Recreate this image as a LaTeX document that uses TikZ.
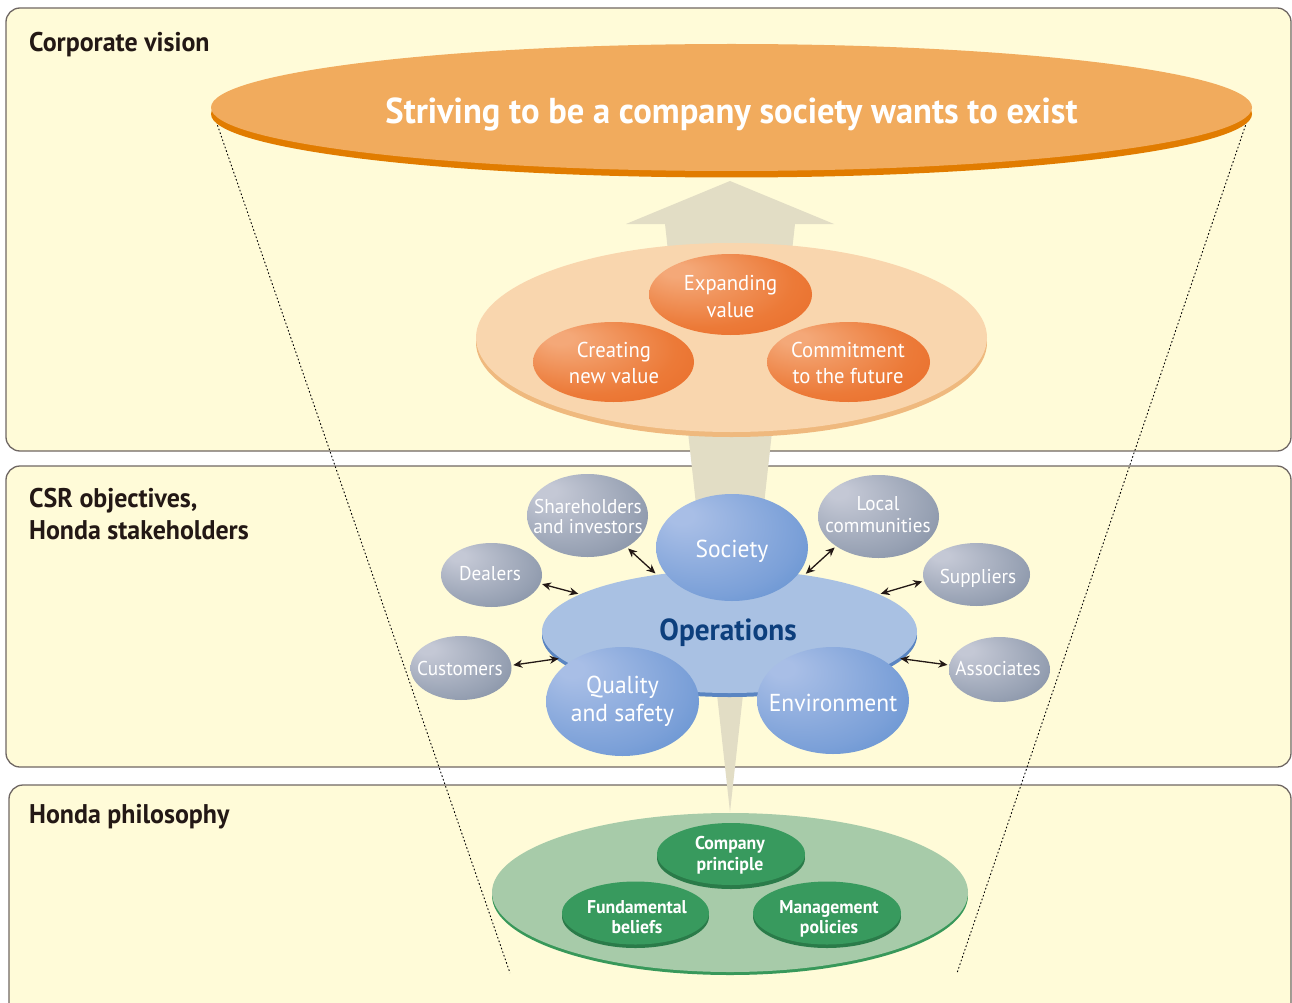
\documentclass[tikz,border=0pt]{standalone}
\usepackage{fontspec}
\setmainfont{PT Sans}[FakeStretch=0.96]
\usetikzlibrary{shapes.geometric,arrows.meta}
\definecolor{panelfill}{HTML}{FFFBD8}
\definecolor{panelline}{HTML}{6F6763}
\definecolor{beige}{HTML}{E2DDC5}
\definecolor{bigTop}{HTML}{F1AB5D}
\definecolor{bigRim}{HTML}{E17C00}
\definecolor{peachTop}{HTML}{F9D6AE}
\definecolor{peachRim}{HTML}{EFB97E}
\definecolor{opsTop}{HTML}{A9C1E3}
\definecolor{opsRim}{HTML}{5A85C2}
\definecolor{greenTop}{HTML}{A7CBA9}
\definecolor{greenRim}{HTML}{38985A}
\definecolor{gTop}{HTML}{389A5E}
\definecolor{gRim}{HTML}{2A7B49}
\definecolor{hdark}{HTML}{231815}
\definecolor{opsText}{HTML}{0D3F7D}
\definecolor{orL}{HTML}{F4A878}
\definecolor{orM}{HTML}{EC7A38}
\definecolor{orD}{HTML}{E75E18}
\definecolor{blL}{HTML}{A8BEE6}
\definecolor{blM}{HTML}{7BA0D8}
\definecolor{blD}{HTML}{3D7BC4}
\definecolor{grL}{HTML}{C4C8D5}
\definecolor{grM}{HTML}{97A1B3}
\definecolor{grD}{HTML}{627088}
\pgfdeclareradialshading{orshade}{\pgfpoint{-18bp}{16bp}}{color(0bp)=(orL); color(4bp)=(orL); color(28bp)=(orM); color(55bp)=(orD)}
\pgfdeclareradialshading{blshade}{\pgfpoint{-18bp}{16bp}}{color(0bp)=(blL); color(4bp)=(blL); color(30bp)=(blM); color(56bp)=(blD)}
\pgfdeclareradialshading{grshade}{\pgfpoint{-18bp}{16bp}}{color(0bp)=(grL); color(4bp)=(grL); color(30bp)=(grM); color(56bp)=(grD)}
\tikzset{
  panel/.style={draw=panelline, fill=panelfill, line width=1.3pt, rounded corners=14pt},
  oval/.style={ellipse, inner sep=0pt, outer sep=0pt},
  orball/.style={oval, shading=orshade},
  blueball/.style={oval, shading=blshade},
  grayball/.style={oval, shading=grshade},
  greenball/.style={oval, fill=gTop},
  lbl/.style={inner sep=0pt, align=center, anchor=base, text=white},
  head/.style={inner sep=0pt, anchor=base west, align=left, text=hdark, font=\bfseries\fontsize{27}{32}\selectfont},
  link/.style={{Stealth[length=9pt,width=8pt]}-{Stealth[length=9pt,width=8pt]}, line width=1.3pt, draw=hdark, shorten <=2pt, shorten >=2pt},
  dotl/.style={line width=0.9pt, dash pattern=on 1.6pt off 2.2pt, draw=black},
}
\begin{document}
\begin{tikzpicture}[x=1pt,y=-1pt]
\useasboundingbox (0,0) rectangle (1292,1003);
\fill[white] (0,0) rectangle (1292,1003);
\begin{scope}
\clip (0,0) rectangle (1292,1003);
% panels
\draw[panel] (6,8) rectangle (1291,451);
\draw[panel] (6,466) rectangle (1291,767);
\draw[panel] (9,785) rectangle (1291,1040);
% headings
\node[head] (h1) at (29,52) {Corporate vision};
\node[head] (h2) at (29,539) {CSR objectives,\\Honda stakeholders};
\node[head] (h3) at (29,823) {Honda philosophy};
% dotted funnel lines
\coordinate (dlA) at (215,118);
\coordinate (dlB) at (510,973);
\coordinate (drA) at (1248,118);
\coordinate (drB) at (957,973);
\draw[dotl] (dlA) -- (dlB);
\draw[dotl] (drA) -- (drB);
% big arrow
\fill[beige] (730,181) -- (834,224) -- (795,224) -- (730,812) -- (665,224) -- (626,224) -- cycle;
% corporate vision ellipse
\fill[bigRim] (731.5,114) ellipse [x radius=520.5pt, y radius=63.5pt];
\node[oval, fill=bigTop, minimum width=1041pt, minimum height=127pt] (vision) at (731.5,107.5) {};
\node[lbl, font=\bfseries\fontsize{36}{40}\selectfont] (visiont) at (731.5,124) {Striving to be a company society wants to exist};
% value plate
\fill[peachRim] (731.5,342.5) ellipse [x radius=255.5pt, y radius=94.5pt];
\node[oval, fill=peachTop, minimum width=511pt, minimum height=189pt] (plate) at (731.5,337.5) {};
\node[orball, minimum width=163pt, minimum height=81pt] (expand) at (730.5,294.5) {};
\node[orball, minimum width=161pt, minimum height=80pt] (create) at (613.5,362) {};
\node[orball, minimum width=163pt, minimum height=80pt] (commit) at (848.5,362) {};
\node[lbl, font=\fontsize{21.5}{27}\selectfont] (expandt) at (730.5,317) {Expanding\\value};
\node[lbl, font=\fontsize{21.5}{26}\selectfont] (createt) at (614,383) {Creating\\new value};
\node[lbl, font=\fontsize{21.5}{26}\selectfont] (committ) at (848,383) {Commitment\\to the future};
% operations
\fill[opsRim] (729.5,635.5) ellipse [x radius=187.5pt, y radius=61.5pt];
\node[oval, fill=opsTop, minimum width=375pt, minimum height=123pt] (ops) at (729.5,631.5) {};
\node[lbl, text=opsText, font=\bfseries\fontsize{30.5}{34}\selectfont] (opst) at (728,640) {Operations};
\node[blueball, minimum width=152pt, minimum height=107pt] (society) at (732,547.5) {};
\node[blueball, minimum width=153pt, minimum height=109pt] (quality) at (622.5,701.5) {};
\node[blueball, minimum width=152pt, minimum height=107pt] (env) at (833,700.5) {};
\node[lbl, font=\fontsize{24.5}{28}\selectfont] (societyt) at (732,557) {Society};
\node[lbl, font=\fontsize{24.5}{28}\selectfont] (qualityt) at (622.5,721) {Quality\\and safety};
\node[lbl, font=\fontsize{24.5}{28}\selectfont] (envt) at (833,711) {Environment};
% stakeholders
\node[grayball, minimum width=121pt, minimum height=83pt] (share) at (587.5,515.5) {};
\node[grayball, minimum width=101pt, minimum height=64pt] (dealers) at (491.5,575) {};
\node[grayball, minimum width=101pt, minimum height=64pt] (cust) at (461,668) {};
\node[grayball, minimum width=121pt, minimum height=83pt] (local) at (878.5,516.5) {};
\node[grayball, minimum width=107pt, minimum height=63pt] (supp) at (976.5,574.5) {};
\node[grayball, minimum width=101pt, minimum height=65pt] (assoc) at (999.5,669.5) {};
\node[lbl, font=\fontsize{20}{20}\selectfont] (sharet) at (588,533) {Shareholders\\and investors};
\node[lbl, font=\fontsize{20}{22}\selectfont] (dealerst) at (490,580) {Dealers};
\node[lbl, font=\fontsize{20}{22}\selectfont] (custt) at (460,675) {Customers};
\node[lbl, font=\fontsize{20}{22}\selectfont] (localt) at (878,532) {Local\\communities};
\node[lbl, font=\fontsize{20}{22}\selectfont] (suppt) at (978,583) {Suppliers};
\node[lbl, font=\fontsize{20}{22}\selectfont] (assoct) at (998,675) {Associates};
% links
\draw[link] (share.-39) -- (ops.142);
\draw[link] (dealers.-10) -- (ops.166);
\draw[link] (cust.3) -- (ops.189);
\draw[link] (local.215) -- (ops.37);
\draw[link] (supp.187) -- (ops.14);
\draw[link] (assoc.175) -- (ops.-9);
% philosophy
\fill[greenRim] (730,895.5) ellipse [x radius=238pt, y radius=79.5pt];
\node[oval, fill=greenTop, minimum width=476pt, minimum height=159pt] (phil) at (730,892.5) {};
\fill[gRim] (731,858) ellipse [x radius=74pt, y radius=31pt];
\node[greenball, minimum width=148pt, minimum height=62pt] (company) at (731,854) {};
\fill[gRim] (635.5,916.5) ellipse [x radius=73.5pt, y radius=31.5pt];
\node[greenball, minimum width=147pt, minimum height=63pt] (fund) at (635.5,913) {};
\fill[gRim] (827,916.5) ellipse [x radius=74pt, y radius=31.5pt];
\node[greenball, minimum width=148pt, minimum height=63pt] (mgmt) at (827,913) {};
\node[lbl, font=\bfseries\fontsize{18.5}{21}\selectfont] (companyt) at (730,870) {Company\\principle};
\node[lbl, font=\bfseries\fontsize{18.5}{20}\selectfont] (fundt) at (637,933) {Fundamental\\beliefs};
\node[lbl, font=\bfseries\fontsize{18.5}{20}\selectfont] (mgmtt) at (829,933) {Management\\policies};
\end{scope}
\end{tikzpicture}
\end{document}
